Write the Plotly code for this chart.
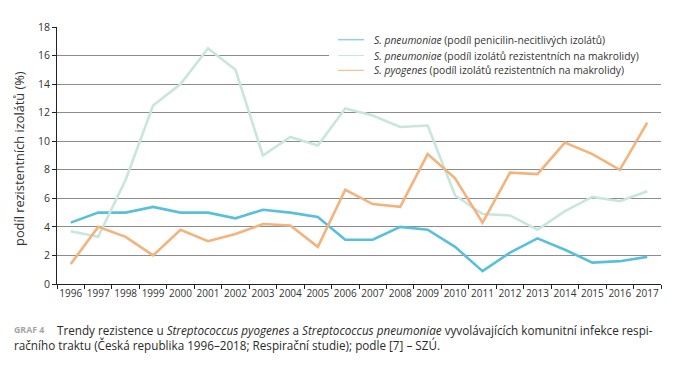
import plotly.graph_objects as go

years = [str(y) for y in range(1996, 2018)]
pen_nonsusceptible = [4.3, 5.0, 5.0, 5.4, 5.0, 5.0, 4.6, 5.2, 5.0, 4.7, 3.1, 3.1, 4.0, 3.8, 2.6, 0.9, 2.2, 3.2, 2.4, 1.5, 1.6, 1.9]
pneumo_macrolide = [3.7, 3.3, 7.3, 12.5, 14.0, 16.5, 15.0, 9.0, 10.3, 9.7, 12.3, 11.8, 11.0, 11.1, 6.2, 4.9, 4.8, 3.8, 5.1, 6.1, 5.8, 6.5]
pyogenes_macrolide = [1.4, 4.0, 3.3, 2.0, 3.8, 3.0, 3.5, 4.2, 4.1, 2.6, 6.6, 5.6, 5.4, 9.1, 7.4, 4.3, 7.8, 7.7, 9.9, 9.1, 8.0, 11.3]

series_values = [pen_nonsusceptible, pneumo_macrolide, pyogenes_macrolide]
series_names = [
    "<i>S. pneumoniae</i> (podíl penicilin-necitlivých izolátů)",
    "<i>S. pneumoniae</i> (podíl izolátů rezistentních na makrolidy)",
    "<i>S. pyogenes</i> (podíl izolátů rezistentních na makrolidy)",
]
colors = ["#58c0dd", "#c8e6dc", "#f4b37c"]

y_ticks = list(range(0, 19, 2))
y_title = "podíl rezistentních izolátů (%)"
caption_tag = "GRAF 4"
caption_1 = ("Trendy rezistence u <i>Streptococcus pyogenes</i> a <i>Streptococcus pneumoniae</i> "
             "vyvolávajících komunitní infekce respi-")
caption_2 = "račního traktu (Česká republika 1996–2018; Respirační studie); podle [7] – SZÚ."

# page is 674x365; browser body margin offsets the figure by 8px
OFF = 8
W, H = 674 - OFF, 365 - OFF
# plot area in page pixels: x 57..661, y 23..284
L, R, T, B = 57 - OFF, 674 - 661, 23 - OFF, 365 - OFF - (284 - OFF)
PW = W - L - R
PH = H - T - B
FONT = "Open Sans"


def px(x):
    return (x - OFF - L) / PW


def py(y):
    return 1 - (y - OFF - T) / PH


fig = go.Figure()
for vals, name, col in zip(series_values, series_names, colors):
    fig.add_trace(go.Scatter(x=years, y=vals, mode="lines", name=name,
                             line=dict(color=col, width=2.6), showlegend=False))

shapes = [
    # white patch hiding the gridline behind the legend
    dict(type="rect", xref="paper", yref="y", x0=px(329), x1=1.0, y0=15.2, y1=16.8,
         fillcolor="white", line=dict(width=0), layer="above"),
]
annotations = []
legend_rows = [36, 52, 67]
for name, col, yy in zip(series_names, colors, legend_rows):
    shapes.append(dict(type="line", xref="paper", yref="paper", x0=px(338), x1=px(364),
                       y0=py(yy), y1=py(yy), line=dict(color=col, width=1), layer="above"))
    annotations.append(dict(text=name, xref="paper", yref="paper", x=px(372), y=py(yy),
                            xanchor="left", yanchor="middle", showarrow=False,
                            font=dict(family=FONT, size=10.3, color="#333")))

annotations.append(dict(text=y_title, xref="paper", yref="paper", x=px(19), y=py(157),
                        xanchor="center", yanchor="middle", textangle=-90, showarrow=False,
                        font=dict(family=FONT, size=12.8, color="#333")))
annotations.append(dict(text="<b>" + caption_tag + "</b>", xref="paper", yref="paper", x=px(12), y=py(331),
                        xanchor="left", yanchor="middle", showarrow=False,
                        font=dict(family=FONT, size=8.8, color="#a5a5a5")))
annotations.append(dict(text=caption_1, xref="paper", yref="paper", x=px(55), y=py(331),
                        xanchor="left", yanchor="middle", showarrow=False,
                        font=dict(family=FONT, size=11.7, color="#2a2a2a")))
annotations.append(dict(text=caption_2, xref="paper", yref="paper", x=px(12), y=py(346),
                        xanchor="left", yanchor="middle", showarrow=False,
                        font=dict(family=FONT, size=11.7, color="#2a2a2a")))

fig.update_layout(
    width=W, height=H,
    margin=dict(l=L, r=R, t=T, b=B, pad=0),
    paper_bgcolor="white", plot_bgcolor="white",
    font=dict(family=FONT, color="#333"),
    shapes=shapes, annotations=annotations,
    showlegend=False,
)
fig.update_xaxes(type="category", range=[-0.5, len(years) - 0.5],
                 showline=True, linecolor="#222", linewidth=1,
                 ticks="outside", tickson="boundaries", ticklen=4, tickcolor="#222",
                 showgrid=False, tickfont=dict(family=FONT, size=10, color="#333"),
                 tickangle=0, zeroline=False)
fig.update_yaxes(range=[0, 18], tickvals=y_ticks, showline=True, linecolor="#222", linewidth=1,
                 ticks="outside", ticklen=4, tickcolor="#222",
                 showgrid=True, gridcolor="#8c8c8c", gridwidth=1, zeroline=False,
                 tickfont=dict(family=FONT, size=10.5, color="#333"))

fig.write_html("out.html")
